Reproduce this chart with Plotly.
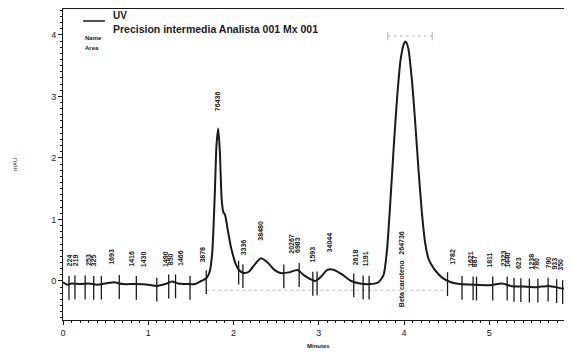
import numpy as np
import plotly.graph_objects as go

# Chromatogram trace (minutes, mAU)
time = [0.00, 0.05, 0.10, 0.20, 0.30, 0.40, 0.50, 0.60, 0.70, 0.85, 1.00, 1.10, 1.20, 1.28,
        1.35, 1.45, 1.55, 1.62, 1.68, 1.72, 1.75, 1.78, 1.80, 1.82, 1.84, 1.86, 1.88, 1.90,
        1.93, 1.97, 2.02, 2.07, 2.12, 2.18, 2.25, 2.32, 2.40, 2.48, 2.55, 2.65, 2.75, 2.82,
        2.90, 2.96, 3.02, 3.10, 3.18, 3.28, 3.38, 3.48, 3.60, 3.70, 3.76, 3.80, 3.84, 3.88,
        3.92, 3.96, 4.00, 4.02, 4.05, 4.09, 4.13, 4.17, 4.21, 4.25, 4.29, 4.35, 4.45, 4.55,
        4.65, 4.80, 5.00, 5.15, 5.25, 5.40, 5.55, 5.70, 5.85, 5.97]
mau = [-0.02, -0.06, -0.04, -0.05, -0.04, -0.06, -0.04, -0.02, -0.05, -0.05, -0.06, -0.08, -0.05, -0.01,
       -0.04, -0.05, -0.05, 0.00, 0.04, 0.15, 0.45, 1.40, 2.20, 2.48, 2.10, 1.35, 1.12, 1.08,
       0.85, 0.55, 0.30, 0.17, 0.13, 0.15, 0.27, 0.37, 0.30, 0.18, 0.13, 0.14, 0.18, 0.10,
       0.03, 0.00, 0.06, 0.18, 0.18, 0.10, 0.00, -0.04, -0.05, -0.02, 0.10, 0.50, 1.30, 2.20,
       3.00, 3.60, 3.86, 3.89, 3.78, 3.30, 2.60, 1.80, 1.10, 0.60, 0.35, 0.20, 0.05, -0.02,
       -0.05, -0.06, -0.07, -0.04, -0.08, -0.09, -0.10, -0.08, -0.12, -0.13]

# Integration (peak boundary) markers, minutes
marker_times = [0.07, 0.14, 0.26, 0.36, 0.45, 0.66, 0.86, 1.10, 1.24, 1.32, 1.49, 1.68,
                2.06, 2.11, 2.59, 2.77, 2.93, 2.98, 3.41, 3.52, 3.59,
                4.51, 4.68, 4.81, 4.85, 5.04, 5.21, 5.29, 5.37, 5.47, 5.57, 5.69, 5.79, 5.86, 5.92]

# Peak labels (retention time, area text)
label_times = [0.08, 0.14, 0.29, 0.36, 0.57, 0.81, 0.94, 1.20, 1.26, 1.37, 1.64, 1.82, 2.12,
               2.32, 2.68, 2.75, 2.93, 3.13, 3.43, 3.55, 4.56, 4.77, 4.83, 5.00, 5.16,
               5.22, 5.35, 5.50, 5.56, 5.70, 5.77, 5.84]
label_texts = ["224", "219", "253", "325", "1693", "1416", "1430", "1490", "850", "1466", "3878",
               "76436", "3336", "38480", "20267", "6983", "1593", "34044", "2618", "1191",
               "1782", "1621", "887", "1811", "2323", "1440", "623", "1238", "780", "790",
               "933", "350"]
main_peak_time = 3.97
main_peak_text = "Beta caroteno   264736"

INK = "#1a1a1a"
OFF = 8  # default page body margin
W, H = 572 - OFF, 356 - OFF
L, R, T, B = 63 - OFF, 0, 9 - OFF, H - (320 - OFF)
PW, PH = W - L - R, H - T - B


def px(x):
    return (x - 63) / PW


def py(y):
    return (320 - y) / PH


fig = go.Figure()

# integration baseline (dotted)
fig.add_trace(go.Scatter(x=[1.68, 4.50], y=[-0.15, -0.15], mode="lines",
                         line=dict(color="#bbbbbb", width=1, dash="dot"),
                         hoverinfo="skip", showlegend=False))
# peak width marker above main peak
fig.add_trace(go.Scatter(x=[3.81, 4.33], y=[3.98, 3.98], mode="lines+markers",
                         line=dict(color="#bbbbbb", width=1, dash="dot"),
                         marker=dict(symbol="line-ns", size=6, line=dict(color="#aaaaaa", width=1)),
                         hoverinfo="skip", showlegend=False))

fig.add_trace(go.Scatter(x=time, y=mau, mode="lines",
                         line=dict(color=INK, width=2, shape="spline", smoothing=0.6),
                         showlegend=False))

mk_y = np.interp(marker_times, time, mau) - 0.06
fig.add_trace(go.Scatter(x=marker_times, y=mk_y, mode="markers",
                         marker=dict(symbol="line-ns", size=17, line=dict(color=INK, width=1.3)),
                         hoverinfo="skip", showlegend=False))

lab_y = np.interp(label_times, time, mau) + 0.25
for t, txt, yy in zip(label_times, label_texts, lab_y):
    fig.add_annotation(x=t, y=float(yy), text="<b>" + txt + "</b>", textangle=-90, showarrow=False,
                       xanchor="center", yanchor="bottom",
                       font=dict(family="Liberation Sans Narrow, Liberation Sans", size=7, color=INK))
fig.add_annotation(x=main_peak_time, y=0.2, text="<b>" + main_peak_text + "</b>", textangle=-90,
                   showarrow=False, xanchor="center", yanchor="middle",
                   font=dict(family="Liberation Sans Narrow, Liberation Sans", size=7, color=INK))

# legend-like header
fig.add_shape(type="line", xref="paper", yref="paper", x0=px(83), x1=px(105),
              y0=py(21), y1=py(21), line=dict(color=INK, width=1.5))
fig.add_annotation(xref="paper", yref="paper", x=px(111), y=py(16),
                   text="<b>UV</b>", showarrow=False, xanchor="left", yanchor="middle",
                   font=dict(family="Liberation Sans", size=10, color=INK))
fig.add_annotation(xref="paper", yref="paper", x=px(111), y=py(29),
                   text="<b>Precision intermedia Analista 001 Mx 001</b>", showarrow=False,
                   xanchor="left", yanchor="middle",
                   font=dict(family="Liberation Sans", size=10.5, color=INK))
fig.add_annotation(xref="paper", yref="paper", x=px(83), y=py(38),
                   text="<b>Name</b>", showarrow=False, xanchor="left", yanchor="middle",
                   font=dict(family="Liberation Sans", size=6, color=INK))
fig.add_annotation(xref="paper", yref="paper", x=px(83), y=py(48),
                   text="<b>Area</b>", showarrow=False, xanchor="left", yanchor="middle",
                   font=dict(family="Liberation Sans", size=6, color=INK))
# axis titles
fig.add_annotation(xref="paper", yref="paper", x=px(318), y=py(346),
                   text="<b>Minutes</b>", showarrow=False, xanchor="center", yanchor="middle",
                   font=dict(family="Liberation Sans", size=6, color=INK))
fig.add_annotation(xref="paper", yref="paper", x=px(15), y=py(165),
                   text="mAU", textangle=-90, showarrow=False, xanchor="center", yanchor="middle",
                   font=dict(family="Liberation Sans", size=6, color=INK))

fig.update_layout(
    width=W, height=H,
    margin=dict(l=L, r=R, t=T, b=B, autoexpand=False),
    paper_bgcolor="white", plot_bgcolor="white",
    font=dict(family="Liberation Sans", color=INK),
    xaxis=dict(range=[0, 5.97], tickvals=[0, 1, 2, 3, 4, 5], showgrid=False, zeroline=False,
               showline=True, linecolor=INK, linewidth=1, mirror=True, automargin=False,
               ticks="outside", ticklen=4, tickcolor=INK, tickfont=dict(size=9, color=INK),
               minor=dict(dtick=0.1, ticks="outside", ticklen=2, tickcolor=INK)),
    yaxis=dict(range=[-0.634, 4.42], tickvals=[0, 1, 2, 3, 4], showgrid=False, zeroline=False,
               showline=True, linecolor=INK, linewidth=1, automargin=False,
               ticks="outside", ticklen=4, tickcolor=INK, tickfont=dict(size=9, color=INK),
               minor=dict(dtick=0.1, ticks="outside", ticklen=2, tickcolor=INK)),
)

fig.write_html("out.html")
